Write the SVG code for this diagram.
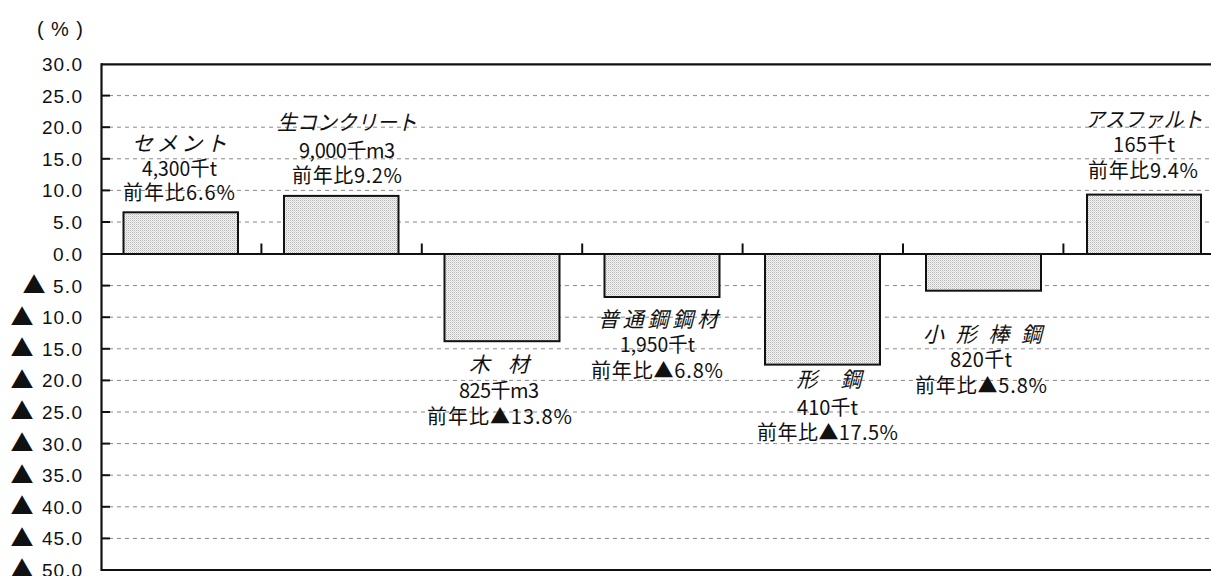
<svg xmlns="http://www.w3.org/2000/svg" width="1211" height="576" viewBox="0 0 1211 576">
<style>
  .ax { font-family: "Liberation Sans", "Noto Sans CJK JP", sans-serif; font-size: 19px; fill: #111; }
  .tri { font-family: "Noto Sans CJK JP", "DejaVu Sans", sans-serif; font-size: 23px; fill: #111; }
  .grid { stroke: #888; stroke-width: 1; stroke-dasharray: 4 4; fill: none; }
  .tick { stroke: #111; stroke-width: 2; }
  .frame { stroke: #111; stroke-width: 2.2; fill: none; }
  .bar { fill: url(#stipple); stroke: #111; stroke-width: 2; }
  .nm { font-family: "Noto Sans CJK JP", sans-serif; font-size: 21px; font-style: italic; fill: #111; text-anchor: middle; }
  .lb { font-family: "Noto Sans CJK JP", sans-serif; font-size: 20px; fill: #111; text-anchor: middle; }
</style>
<defs>
  <pattern id="stipple" width="2" height="2" patternUnits="userSpaceOnUse">
    <rect width="2" height="2" fill="#f6f6f6"/>
    <rect x="0" y="0" width="1" height="1" fill="#b4b4b4"/>
    <rect x="1" y="1" width="1" height="1" fill="#d6d6d6"/>
  </pattern>
</defs>
<rect width="1211" height="576" fill="#fff"/>

<text x="37" y="36" font-family="Liberation Sans, Noto Sans CJK JP, sans-serif" font-size="20" fill="#111" textLength="46">(%)</text>

<g id="grid">
  <line class="grid" x1="101" y1="95.6" x2="1230" y2="95.6"/>
  <line class="grid" x1="101" y1="127.2" x2="1230" y2="127.2"/>
  <line class="grid" x1="101" y1="158.8" x2="1230" y2="158.8"/>
  <line class="grid" x1="101" y1="190.4" x2="1230" y2="190.4"/>
  <line class="grid" x1="101" y1="222" x2="1230" y2="222"/>
  <line class="grid" x1="101" y1="285.6" x2="1230" y2="285.6"/>
  <line class="grid" x1="101" y1="317.2" x2="1230" y2="317.2"/>
  <line class="grid" x1="101" y1="348.8" x2="1230" y2="348.8"/>
  <line class="grid" x1="101" y1="380.4" x2="1230" y2="380.4"/>
  <line class="grid" x1="101" y1="412" x2="1230" y2="412"/>
  <line class="grid" x1="101" y1="443.6" x2="1230" y2="443.6"/>
  <line class="grid" x1="101" y1="475.2" x2="1230" y2="475.2"/>
  <line class="grid" x1="101" y1="506.8" x2="1230" y2="506.8"/>
  <line class="grid" x1="101" y1="538.4" x2="1230" y2="538.4"/>
</g>

<g id="axis">
  <line class="frame" x1="101" y1="64.4" x2="1230" y2="64.4"/>
  <line class="frame" x1="101" y1="570" x2="1230" y2="570"/>
  <line class="frame" x1="101.5" y1="63.3" x2="101.5" y2="571"/>
  <line class="frame" x1="101" y1="254" x2="1230" y2="254"/>
  <g class="tick">
    <line x1="101" y1="95.6" x2="110" y2="95.6"/>
    <line x1="101" y1="127.2" x2="110" y2="127.2"/>
    <line x1="101" y1="158.8" x2="110" y2="158.8"/>
    <line x1="101" y1="190.4" x2="110" y2="190.4"/>
    <line x1="101" y1="222" x2="110" y2="222"/>
    <line x1="101" y1="285.6" x2="110" y2="285.6"/>
    <line x1="101" y1="317.2" x2="110" y2="317.2"/>
    <line x1="101" y1="348.8" x2="110" y2="348.8"/>
    <line x1="101" y1="380.4" x2="110" y2="380.4"/>
    <line x1="101" y1="412" x2="110" y2="412"/>
    <line x1="101" y1="443.6" x2="110" y2="443.6"/>
    <line x1="101" y1="475.2" x2="110" y2="475.2"/>
    <line x1="101" y1="506.8" x2="110" y2="506.8"/>
    <line x1="101" y1="538.4" x2="110" y2="538.4"/>
    <line x1="261.4" y1="254" x2="261.4" y2="243.5"/>
    <line x1="421.8" y1="254" x2="421.8" y2="243.5"/>
    <line x1="582.2" y1="254" x2="582.2" y2="243.5"/>
    <line x1="742.6" y1="254" x2="742.6" y2="243.5"/>
    <line x1="903" y1="254" x2="903" y2="243.5"/>
    <line x1="1063.4" y1="254" x2="1063.4" y2="243.5"/>
  </g>
  <g class="ax" text-anchor="end">
    <text x="82" y="71.3" textLength="40">30.0</text>
    <text x="82" y="102.5" textLength="40">25.0</text>
    <text x="82" y="134.1" textLength="40">20.0</text>
    <text x="82" y="165.7" textLength="40">15.0</text>
    <text x="82" y="197.3" textLength="40">10.0</text>
    <text x="82" y="228.9" textLength="29">5.0</text>
    <text x="82" y="260.9" textLength="29">0.0</text>
  </g>
  <g class="ax">
    <text><tspan class="tri" x="34" y="293" text-anchor="middle">▲</tspan><tspan x="82" y="292.5" text-anchor="end" textLength="29">5.0</tspan></text>
    <text><tspan class="tri" x="22" y="324.6" text-anchor="middle">▲</tspan><tspan x="82" y="324.1" text-anchor="end" textLength="40">10.0</tspan></text>
    <text><tspan class="tri" x="22" y="356.2" text-anchor="middle">▲</tspan><tspan x="82" y="355.7" text-anchor="end" textLength="40">15.0</tspan></text>
    <text><tspan class="tri" x="22" y="387.8" text-anchor="middle">▲</tspan><tspan x="82" y="387.3" text-anchor="end" textLength="40">20.0</tspan></text>
    <text><tspan class="tri" x="22" y="419.4" text-anchor="middle">▲</tspan><tspan x="82" y="418.9" text-anchor="end" textLength="40">25.0</tspan></text>
    <text><tspan class="tri" x="22" y="451" text-anchor="middle">▲</tspan><tspan x="82" y="450.5" text-anchor="end" textLength="40">30.0</tspan></text>
    <text><tspan class="tri" x="22" y="482.6" text-anchor="middle">▲</tspan><tspan x="82" y="482.1" text-anchor="end" textLength="40">35.0</tspan></text>
    <text><tspan class="tri" x="22" y="514.2" text-anchor="middle">▲</tspan><tspan x="82" y="513.7" text-anchor="end" textLength="40">40.0</tspan></text>
    <text><tspan class="tri" x="22" y="545.8" text-anchor="middle">▲</tspan><tspan x="82" y="545.3" text-anchor="end" textLength="40">45.0</tspan></text>
    <text><tspan class="tri" x="22" y="577.4" text-anchor="middle">▲</tspan><tspan x="82" y="576.9" text-anchor="end" textLength="40">50.0</tspan></text>
  </g>
</g>

<g id="connectors"></g>

<g id="cement">
  <rect class="bar" x="123.5" y="212.3" width="114.5" height="41.7"/>
  <text class="nm" x="179.5" y="151" textLength="95">セメント</text>
  <text class="lb" x="179.5" y="176" textLength="75" lengthAdjust="spacingAndGlyphs">4,300千t</text>
  <text class="lb" x="179" y="200" textLength="112">前年比6.6%</text>
</g>

<g id="namacon">
  <rect class="bar" x="284" y="195.9" width="114.5" height="58.1"/>
  <text class="nm" x="347" y="130" textLength="140" lengthAdjust="spacingAndGlyphs">生コンクリート</text>
  <text class="lb" x="347" y="157.5" textLength="96">9,000千m3</text>
  <text class="lb" x="347" y="182.5" textLength="110">前年比9.2%</text>
</g>

<g id="mokuzai">
  <rect class="bar" x="444.5" y="254" width="115" height="87.2"/>
  <text class="nm" x="499" y="372" textLength="60">木 材</text>
  <text class="lb" x="499" y="397.5" textLength="80">825千m3</text>
  <text class="lb" x="499.5" y="423.5" textLength="145">前年比▲13.8%</text>
</g>

<g id="futsuko">
  <rect class="bar" x="604.5" y="254" width="115" height="43"/>
  <text class="nm" x="658" y="327" textLength="120">普通鋼鋼材</text>
  <text class="lb" x="657.5" y="351.5" textLength="75" lengthAdjust="spacingAndGlyphs">1,950千t</text>
  <text class="lb" x="657" y="377.5" textLength="132">前年比▲6.8%</text>
</g>

<g id="katako">
  <rect class="bar" x="765" y="254" width="115" height="110.6"/>
  <text class="nm" x="829" y="387" textLength="65">形 鋼</text>
  <text class="lb" x="827.5" y="414.5" textLength="61">410千t</text>
  <text class="lb" x="827.5" y="439.5" textLength="141">前年比▲17.5%</text>
</g>

<g id="kogatabouko">
  <rect class="bar" x="926" y="254" width="115" height="36.7"/>
  <text class="nm" x="982.5" y="342" textLength="119">小 形 棒 鋼</text>
  <text class="lb" x="981" y="366.5" textLength="62">820千t</text>
  <text class="lb" x="981" y="392.5" textLength="132">前年比▲5.8%</text>
</g>

<g id="asphalt">
  <rect class="bar" x="1087" y="194.6" width="114" height="59.4"/>
  <text class="nm" x="1144" y="127" textLength="118" lengthAdjust="spacingAndGlyphs">アスファルト</text>
  <text class="lb" x="1144" y="151.5" textLength="62">165千t</text>
  <text class="lb" x="1143" y="177.5" textLength="110">前年比9.4%</text>
</g>
</svg>
